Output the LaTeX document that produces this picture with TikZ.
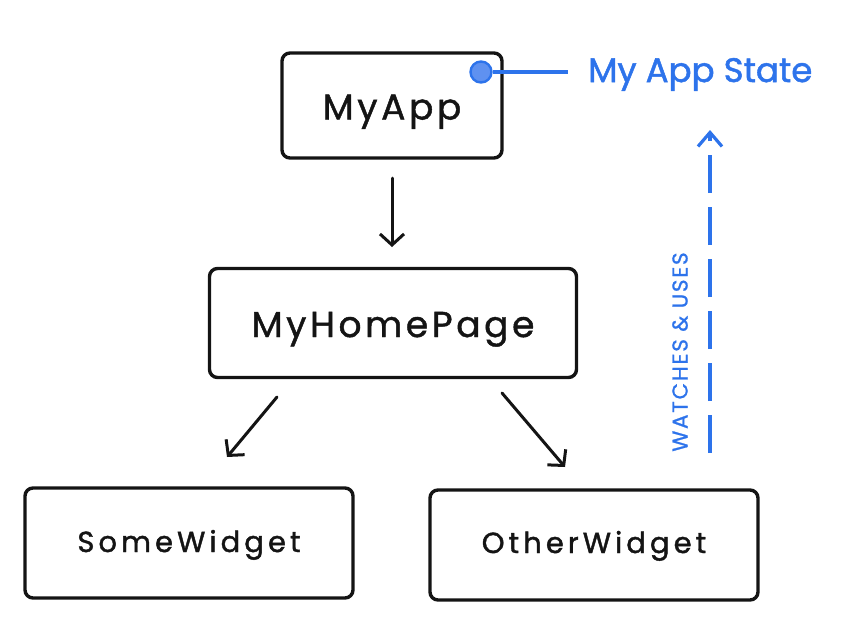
\documentclass[tikz,border=0pt]{standalone}
\usepackage{fontspec}
\setmainfont{Poppins}
\usetikzlibrary{arrows.meta}
\definecolor{inkblue}{RGB}{45,115,235}
\definecolor{dotfill}{RGB}{95,145,240}
\definecolor{ink}{RGB}{20,20,20}
\tikzset{
  box/.style={draw=ink, line width=3.4pt, rounded corners=8pt, inner sep=0pt},
  bigtext/.style={font=\fontsize{36}{40}\selectfont\addfontfeatures{LetterSpace=10,FakeBold=1.2}, text=ink, anchor=base},
  smalltext/.style={font=\fontsize{29}{33}\selectfont\addfontfeatures{LetterSpace=14,FakeBold=1.4}, text=ink, anchor=base},
  flow/.style={draw=ink, line width=3pt, line cap=round, -{Straight Barb[length=11pt,width=24pt,line width=3pt]}},
  bluetext/.style={font=\fontsize{34}{38}\selectfont\addfontfeatures{FakeBold=1.5}, text=inkblue, inner sep=0pt},
  watch/.style={draw=inkblue, line width=3.2pt, dash pattern=on 38pt off 14pt, -{Straight Barb[length=14pt,width=24pt,line width=3.2pt]}},
  sidetext/.style={font=\fontsize{21.5}{24}\selectfont\addfontfeatures{LetterSpace=8,FakeBold=1}, text=inkblue, rotate=90, inner sep=0pt}
}
\begin{document}
\begin{tikzpicture}[x=1pt,y=-1pt]
\useasboundingbox (0,0) rectangle (843,619);
% boxes
\node[box, minimum width=220pt, minimum height=105pt] (app) at (392,105.5) {};
\node[bigtext] (apptext) at ([yshift=-14pt]app.center) {MyApp};
\node[box, minimum width=367pt, minimum height=109pt] (home) at (393,323) {};
\node[bigtext] (hometext) at ([yshift=-14pt]home.center) {MyHomePage};
\node[box, minimum width=328pt, minimum height=110pt] (some) at (189,543) {};
\node[smalltext] (sometext) at ([yshift=-9pt]some.center) {SomeWidget};
\node[box, minimum width=328pt, minimum height=110pt] (other) at (594,545) {};
\node[smalltext] (othertext) at ([yshift=-8pt]other.center) {OtherWidget};
% state
\node[circle, draw=inkblue, fill=dotfill, line width=2.4pt, minimum size=21pt, inner sep=0pt] (dot) at (481,72) {};
\node[bluetext, anchor=base west] (state) at (588,82) {My App State};
\draw[inkblue, line width=3.2pt] (dot) -- ([xshift=-20pt]dot -| state.west);
% arrows
\coordinate (a1) at (392,178);
\coordinate (a2) at (392,247);
\draw[flow] (a1) -- (a2);
\coordinate (l1) at (277,397);
\coordinate (l2) at (227,457);
\draw[flow] (l1) -- (l2);
\coordinate (r1) at (502,393);
\coordinate (r2) at (565,467);
\draw[flow] (r1) -- (r2);
% watches
\coordinate (wb) at (710,453);
\coordinate (wt) at (710,130);
\draw[watch] (wb) -- (wt);
\node[sidetext] (wlabel) at (680,352) {WATCHES \& USES};
\end{tikzpicture}
\end{document}
